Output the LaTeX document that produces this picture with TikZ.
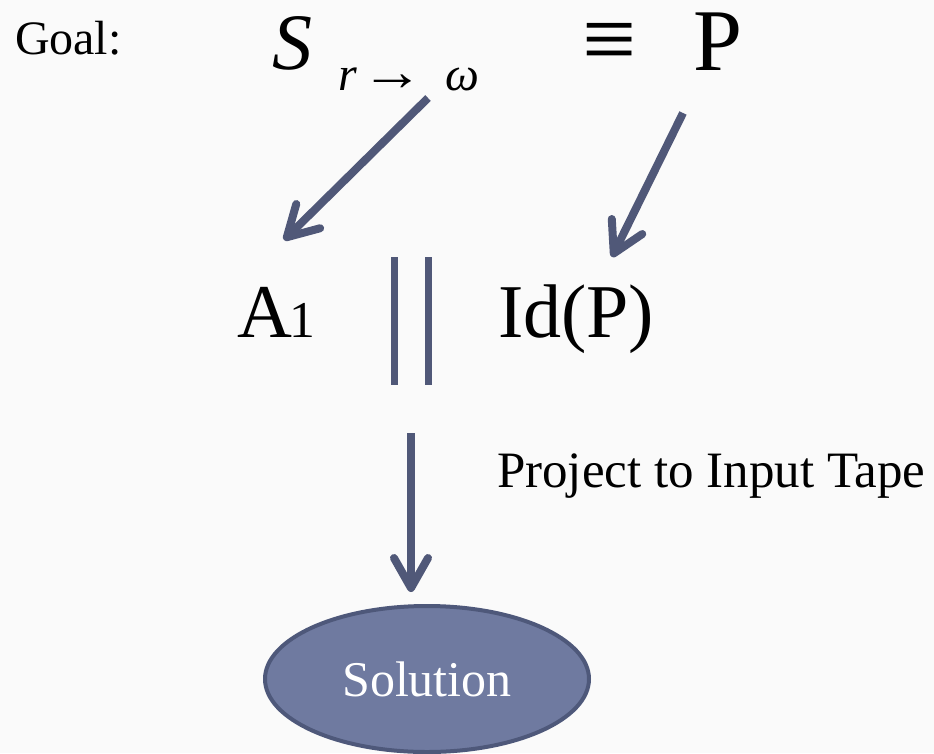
\documentclass[tikz,border=0pt]{standalone}
\usepackage{graphicx}
\usepackage{fontspec}
\setmainfont{Liberation Serif}
\usetikzlibrary{arrows.meta,shapes.geometric}
\definecolor{arrowc}{RGB}{80,88,120}
\definecolor{ellfill}{RGB}{111,122,160}
\definecolor{elldraw}{RGB}{78,88,122}
\definecolor{bgc}{RGB}{250,250,250}
\tikzset{
  txt/.style={inner sep=0pt, outer sep=0pt, anchor=base west},
  arr/.style={draw=arrowc, line width=8pt, -{Straight Barb[length=30pt,width=34pt,round]}},
  bar/.style={draw=arrowc, line width=7pt},
  solnode/.style={ellipse, fill=ellfill, draw=elldraw, line width=4pt,
    minimum width=324pt, minimum height=146pt, inner sep=0pt, text=white,
    font=\fontsize{50}{55}\selectfont}
}
\newcommand{\osone}{\scalebox{0.68}{1}}
\begin{document}
\begin{tikzpicture}[x=1pt,y=-1pt]
\path[fill=bgc] (0,0) rectangle (934,753);
\useasboundingbox (0,0) rectangle (934,753);
% top formula
\node[txt, font=\fontsize{48}{54}\selectfont] (goal) at (15,54) {Goal:};
\node[txt, font=\fontsize{80}{84}\selectfont\itshape] (S) at (272,69) {S};
\node[txt, font=\fontsize{48}{52}\selectfont] (sub) at (338,90) {\textit{r}\hspace{5pt}\scalebox{1.3}[1.15]{→}\hspace{21pt}\textit{ω}};
\node[inner sep=2pt, font=\fontsize{96}{100}\selectfont] (eq) at (610,47) {≡};
\node[txt, font=\fontsize{88}{92}\selectfont] (P) at (693,70) {P};
% middle
\node[txt, font=\fontsize{76}{80}\selectfont] (A1) at (237,337) {A\kern-2pt\osone};
\node[txt, font=\fontsize{76}{80}\selectfont] (IdP) at (498,337) {Id(P)};
\node[txt, font=\fontsize{51}{56}\selectfont] (proj) at (497,487) {Project to Input Tape};
% solution
\node[solnode] (sol) at (427,679) {Solution};
% connector end points
\coordinate (a1s) at (428,98);
\coordinate (a1e) at (284,240);
\coordinate (a2s) at (683,113);
\coordinate (a2e) at (612,257);
\coordinate (a3s) at (411,433);
\coordinate (a3e) at (411,592);
\coordinate (b1t) at (394.5,257);
\coordinate (b1b) at (394.5,385);
\coordinate (b2t) at (428.5,257);
\coordinate (b2b) at (428.5,385);
% connectors
\draw[arr] (a1s) -- (a1e);
\draw[arr] (a2s) -- (a2e);
\draw[arr] (a3s) -- (a3e);
\draw[bar] (b1t) -- (b1b);
\draw[bar] (b2t) -- (b2b);
\end{tikzpicture}
\end{document}
